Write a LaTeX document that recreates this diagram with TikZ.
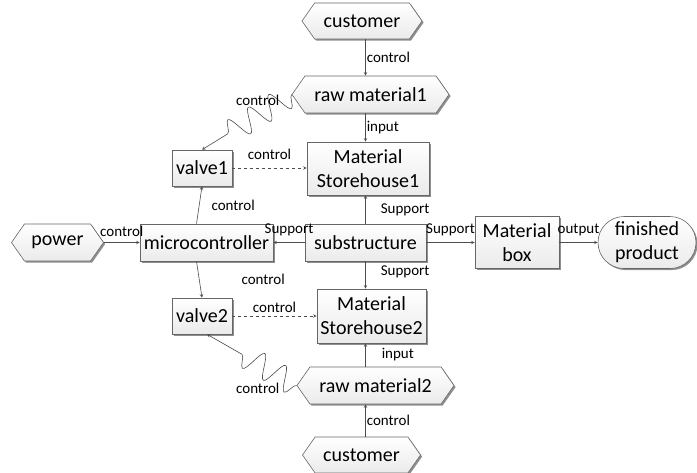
\documentclass[tikz,border=0pt]{standalone}
\usepackage{fontspec}
\setmainfont{Carlito}
\usetikzlibrary{arrows,shapes.symbols,shapes.misc,shadows,decorations.pathmorphing}

\begin{document}
\begin{tikzpicture}
[x=1pt,y=-1pt,
every node/.style={font=\fontsize{20}{24}\selectfont,align=center,inner sep=1pt},
base/.style={draw=black!60,line width=.6pt,top color=white,bottom color=black!8,
  drop shadow={shadow xshift=1.6pt,shadow yshift=-1.6pt,fill=black!55,opacity=.8}},
box/.style={base,rectangle},
hexa/.style={base,signal,signal to=west and east,signal pointer angle=110},
term/.style={base,rounded rectangle},
lbl/.style={font=\fontsize{15}{16}\selectfont,inner sep=1pt},
arr/.style={->,>=stealth,draw=black!70,line width=.6pt},
wave/.style={arr,decorate,decoration={snake,amplitude=12pt,segment length=24pt,post length=30pt}}]
\useasboundingbox (0,0) rectangle (697,472);
% upper branch
\node[hexa,minimum width=120pt,minimum height=36pt] (cust1) at (362,21) {customer};
\node[hexa,minimum width=157pt,minimum height=37pt] (raw1) at (370.5,94.5) {raw material1};
\node[box,minimum width=122pt,minimum height=53pt] (store1) at (368,168.5) {Material\\Storehouse1};
\node[box,minimum width=60pt,minimum height=36pt] (valve1) at (202,168) {valve1};
% middle row
\node[hexa,minimum width=92pt,minimum height=37pt] (power) at (57.5,242.5) {power};
\node[box,minimum width=133pt,minimum height=37pt] (micro) at (206.5,242.5) {microcontroller};
\node[box,minimum width=121pt,minimum height=37pt] (sub) at (365.5,242.5) {substructure};
\node[box,minimum width=84pt,minimum height=52pt] (mbox) at (517,242.5) {Material\\box};
\node[term,minimum width=100pt,minimum height=52pt] (fin) at (647,242.5) {finished\\product};
% lower branch
\node[box,minimum width=60pt,minimum height=36pt] (valve2) at (202,316) {valve2};
\node[box,minimum width=109pt,minimum height=54pt] (store2) at (371.5,316) {Material\\Storehouse2};
\node[hexa,minimum width=157pt,minimum height=37pt] (raw2) at (375.5,385.5) {raw material2};
\node[hexa,minimum width=118pt,minimum height=36pt] (cust2) at (361.5,455) {customer};

\draw[arr] (cust1.south -| sub) -- node[lbl,right] {control} (raw1.north -| sub);
\draw[arr] (raw1.south -| sub) -- node[lbl,right] {input} (store1.north -| sub);
\draw[arr] (sub.north) -- node[lbl,right=14pt] {Support} (store1.south -| sub);
\draw[arr] (sub.south) -- node[lbl,right=14pt,pos=.4] {Support} (store2.north -| sub);
\draw[arr] (raw2.north -| sub) -- node[lbl,right=15pt] {input} (store2.south -| sub);
\draw[arr] (cust2.north -| sub) -- node[lbl,right] {control} (raw2.south -| sub);

\draw[arr] (power) -- node[lbl,above=5pt] {control} (micro);
\draw[arr] (sub) -- node[lbl,above=5pt] {Support} (micro);
\draw[arr] (sub) -- node[lbl,above=5pt] {Support} (mbox);
\draw[arr] (mbox) -- node[lbl,above=5pt] {output} (fin);

\draw[arr] ([xshift=-10pt]micro.north) -- node[lbl,right=11pt] {control} (valve1.south);
\draw[arr] ([xshift=-10pt]micro.south) -- node[lbl,right=41pt] {control} (valve2.north);
\draw[arr,dashed] (valve1) -- node[lbl,above=7pt] {control} (store1.west |- valve1);
\draw[arr,dashed] (valve2) -- node[lbl,above=2pt] {control} (store2.west |- valve2);

\draw[wave] (raw1.west) -- node[lbl,pos=.3,xshift=-7pt,yshift=11pt] {control} (valve1.north);
\draw[wave] (raw2.west) -- node[lbl,pos=.3,xshift=-12pt,yshift=-18pt] {control} ([xshift=5pt]valve2.south);
\end{tikzpicture}
\end{document}
